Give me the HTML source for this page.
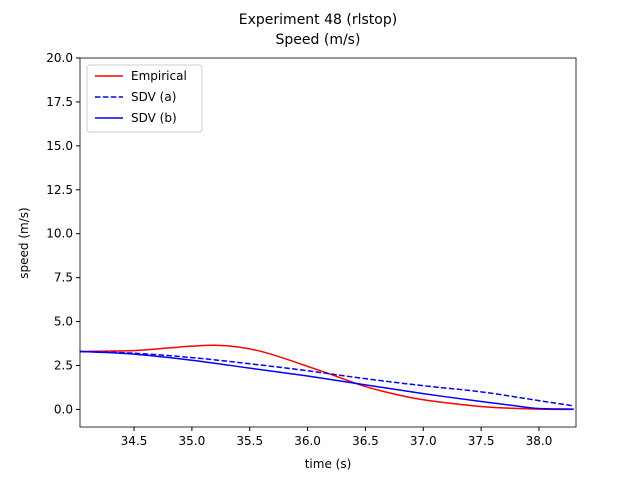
<!DOCTYPE html>
<html><head><meta charset="utf-8"><style>
body{margin:0;background:#fff;font-family:"Liberation Sans","DejaVu Sans",sans-serif}
svg text{font-family:"DejaVu Sans","Liberation Sans",sans-serif}
</style></head><body>
<svg id="chart" width="640" height="480" xmlns="http://www.w3.org/2000/svg">
<rect width="640" height="480" fill="#fff"/>
<text x="318" y="24" font-size="14" text-anchor="middle">Experiment 48 (rlstop)</text>
<text x="318" y="44" font-size="14" text-anchor="middle">Speed (m/s)</text>
<g id="plot"></g>
<text x="328" y="468" font-size="12" text-anchor="middle">time (s)</text>
<text transform="translate(28,243) rotate(-90)" font-size="12" text-anchor="middle">speed (m/s)</text>
</svg>
<script>
const empT=[34.03,34.5,34.8,35.0,35.2,35.4,35.6,35.8,36.0,36.2,36.5,36.8,37.0,37.3,37.6,38.0,38.3];
const empV=[3.3,3.35,3.5,3.6,3.65,3.55,3.3,2.9,2.45,2.0,1.3,0.8,0.55,0.3,0.12,0.02,0.0];
const aT=[34.03,34.5,35.0,35.5,36.0,36.5,37.0,37.5,38.0,38.3];
const aV=[3.3,3.2,2.95,2.6,2.2,1.75,1.35,1.0,0.5,0.2];
const bT=[34.03,34.5,35.0,35.5,36.0,36.5,37.0,37.5,37.8,38.0,38.3];
const bV=[3.3,3.15,2.8,2.35,1.9,1.4,0.9,0.45,0.2,0.05,0.02];
const xTicks=[34.5,35.0,35.5,36.0,36.5,37.0,37.5,38.0];
const yTicks=[0,2.5,5,7.5,10,12.5,15,17.5,20];
const L=80,R=576,T=58,B=427,x0=34.033,x1=38.32,y0=-1,y1=20;
const X=v=>L+(v-x0)/(x1-x0)*(R-L), Y=v=>B-(v-y0)/(y1-y0)*(B-T);
const NS="http://www.w3.org/2000/svg", g=document.getElementById('plot');
function mk(t,a){const e=document.createElementNS(NS,t);for(const k in a)e.setAttribute(k,a[k]);g.appendChild(e);return e;}
xTicks.forEach(v=>{const l=mk('line',{x1:X(v),x2:X(v),y1:B,y2:B+4,stroke:'#000'});


const t=mk('text',{x:X(v),y:B+18,'font-size':12,'text-anchor':'middle'});t.textContent=v.toFixed(1);

});
yTicks.forEach(v=>{const l=mk('line',{x1:L-4,x2:L,y1:Y(v),y2:Y(v),stroke:'#000'});


const t=mk('text',{x:L-7,y:Y(v)+4,'font-size':12,'text-anchor':'end'});t.textContent=v.toFixed(1);

});
function smooth(pts){let d='M'+pts[0][0]+','+pts[0][1];
for(let i=0;i<pts.length-1;i++){const p0=pts[Math.max(0,i-1)],p1=pts[i],p2=pts[i+1],p3=pts[Math.min(pts.length-1,i+2)];
const c1=[p1[0]+(p2[0]-p0[0])/6,p1[1]+(p2[1]-p0[1])/6],c2=[p2[0]-(p3[0]-p1[0])/6,p2[1]-(p3[1]-p1[1])/6];
d+=' C'+c1[0]+','+c1[1]+' '+c2[0]+','+c2[1]+' '+p2[0]+','+p2[1];}return d;}
function line(ts,vs,c,dash,name){const p=mk('path',{d:smooth(ts.map((t,i)=>[X(t),Y(vs[i])])),fill:'none',stroke:c,'stroke-width':1.5,'stroke-dasharray':dash||'none'});

}
line(empT,empV,'#ff0000',null,'empirical-line');
line(aT,aV,'#0000ff','5.5,2.4','sdv-a-line');
line(bT,bV,'#0000ff',null,'sdv-b-line');
const fr=mk('rect',{x:L,y:T,width:R-L,height:B-T,fill:'none',stroke:'#000','stroke-width':0.8});


const lg=mk('rect',{x:87,y:65,width:115,height:67,fill:'#fff',stroke:'#ccc',rx:3});


[['Empirical','#ff0000',null],['SDV (a)','#0000ff','5.5,2.4'],['SDV (b)','#0000ff',null]].forEach((d,i)=>{
const y=76+i*21;
const l=mk('line',{x1:95,x2:123,y1:y,y2:y,stroke:d[1],'stroke-width':1.5,'stroke-dasharray':d[2]||'none'});


const t=mk('text',{x:131,y:y+4,'font-size':12});t.textContent=d[0];

});
</script>
</body></html>
